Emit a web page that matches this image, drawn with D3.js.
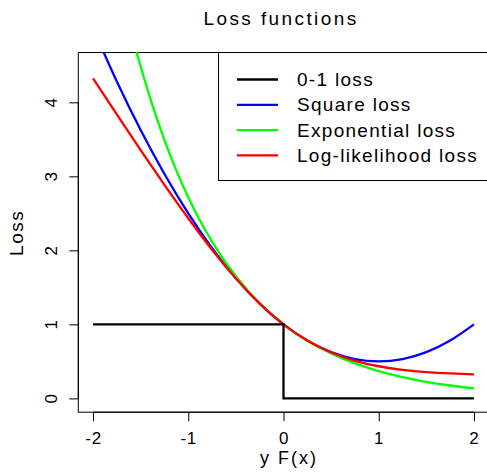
<!DOCTYPE html>
<html>
<head>
<meta charset="utf-8">
<script src="https://cdn.jsdelivr.net/npm/d3@7"></script>
<style>
  body { margin: 0; background: #fff; }
  svg { display: block; font-family: "Liberation Sans", Arial, sans-serif; }
</style>
</head>
<body>
<svg id="chart" width="487" height="474"></svg>
<script>
// sampled margin values y*F(x)
const margins = [-2, -1.75, -1.5, -1.25, -1, -0.75, -0.5, -0.25, 0, 0.25, 0.5, 0.75, 1, 1.25, 1.5, 1.75, 2];
const squareLoss = [5.0, 4.281, 3.625, 3.031, 2.5, 2.031, 1.625, 1.281, 1.0, 0.781, 0.625, 0.531, 0.5, 0.531, 0.625, 0.781, 1.0];
const expLoss = [7.389, 5.755, 4.482, 3.49, 2.718, 2.117, 1.649, 1.284, 1.0, 0.779, 0.607, 0.472, 0.368, 0.287, 0.223, 0.174, 0.135];
const logLoss = [4.325, 3.837, 3.355, 2.886, 2.434, 2.008, 1.62, 1.281, 1.0, 0.781, 0.62, 0.508, 0.434, 0.386, 0.355, 0.337, 0.325];
// 0-1 loss is a step
const zeroOneX = [-2, 0, 0, 2];
const zeroOneY = [1, 1, 0, 0];

const legendLabels = ['0-1 loss', 'Square loss', 'Exponential loss', 'Log-likelihood loss'];
const legendColors = ['#000000', '#0000ff', '#00ff00', '#ff0000'];
const xTicks = [-2, -1, 0, 1, 2];
const yTicks = [0, 1, 2, 3, 4];

const svg = d3.select('#chart');
const plot = { left: 77.8, right: 489.2, top: 52, bottom: 411.7 };

const x = d3.scaleLinear().domain([-2.16, 2.16]).range([plot.left, plot.right]);
const y = d3.scaleLinear().domain([-0.18, 4.68]).range([plot.bottom, plot.top]);

svg.append('defs').append('clipPath').attr('id', 'clip')
  .append('rect')
  .attr('x', plot.left).attr('y', plot.top)
  .attr('width', plot.right - plot.left).attr('height', plot.bottom - plot.top);

// Title
svg.append('text')
  .attr('x', 281).attr('y', 25)
  .attr('text-anchor', 'middle')
  .style('font-size', '19px')
  .style('letter-spacing', '2.4px')
  .text('Loss functions');

// Box
svg.append('rect')
  .attr('x', plot.left + 0.5).attr('y', plot.top + 0.5)
  .attr('width', plot.right - plot.left).attr('height', plot.bottom - plot.top)
  .attr('fill', 'none').attr('stroke', '#000').attr('stroke-width', 1);

// Axes (R style, plain hyphen for negatives)
const fmt = d => String(d);

const xAxis = svg.append('g')
  .attr('transform', `translate(0,${plot.bottom + 0.5})`)
  .call(d3.axisBottom(x).tickValues(xTicks).tickSize(9).tickPadding(11).tickFormat(fmt));
xAxis.select('.domain').attr('d', `M${x(-2)},0H${x(2)}`);
xAxis.selectAll('text')
  .style('font-size', '17px')
  .style('letter-spacing', '0.8px')
  .attr('fill', '#000');

const yAxis = svg.append('g')
  .attr('transform', `translate(${plot.left + 0.5},0)`)
  .call(d3.axisLeft(y).tickValues(yTicks).tickSize(9).tickFormat(fmt));
yAxis.select('.domain').attr('d', `M0,${y(0)}V${y(4)}`);
yAxis.selectAll('text')
  .attr('x', null).attr('dy', null)
  .attr('text-anchor', 'middle')
  .attr('transform', 'translate(-21,0) rotate(-90)')
  .style('font-size', '17px')
  .attr('fill', '#000');

// Axis labels
svg.append('text')
  .attr('x', 289).attr('y', 464)
  .attr('text-anchor', 'middle')
  .style('font-size', '18px')
  .style('letter-spacing', '2px')
  .text('y F(x)');

svg.append('text')
  .attr('transform', `translate(23,${(plot.top + plot.bottom) / 2 + 1}) rotate(-90)`)
  .attr('text-anchor', 'middle')
  .style('font-size', '19px')
  .style('letter-spacing', '1.5px')
  .text('Loss');

// Curves
const curves = svg.append('g').attr('clip-path', 'url(#clip)');
const smooth = d3.line().x(d => x(d[0])).y(d => y(d[1])).curve(d3.curveNatural);

[[squareLoss, legendColors[1]], [expLoss, legendColors[2]], [logLoss, legendColors[3]]].forEach(([vals, col]) => {
  curves.append('path')
    .datum(margins.map((m, i) => [m, vals[i]]))
    .attr('fill', 'none')
    .attr('stroke', col)
    .attr('stroke-width', 2.3)
    .attr('d', smooth);
});

curves.append('path')
  .datum(zeroOneX.map((m, i) => [m, zeroOneY[i]]))
  .attr('fill', 'none')
  .attr('stroke', legendColors[0])
  .attr('stroke-width', 2.3)
  .attr('d', d3.line().x(d => x(d[0])).y(d => y(d[1])));

// Legend
const legend = svg.append('g');
legend.append('rect')
  .attr('x', 218.5).attr('y', plot.top + 0.5)
  .attr('width', plot.right - 218.5).attr('height', 128)
  .attr('fill', '#fff').attr('stroke', '#000').attr('stroke-width', 1);

legendLabels.forEach((lab, i) => {
  const ly = 79.5 + i * 25.3;
  legend.append('line')
    .attr('x1', 237).attr('x2', 278)
    .attr('y1', ly).attr('y2', ly)
    .attr('stroke', legendColors[i]).attr('stroke-width', 2.3);
  legend.append('text')
    .attr('x', 297).attr('y', ly + 6.5)
    .style('font-size', '19px')
    .style('letter-spacing', '1.3px')
    .text(lab);
});
</script>
</body>
</html>
